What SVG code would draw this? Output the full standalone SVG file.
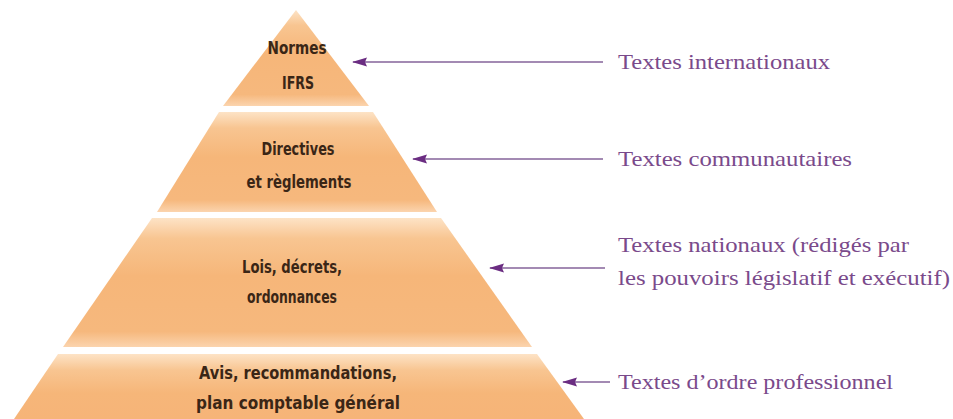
<svg xmlns="http://www.w3.org/2000/svg" width="953" height="419" viewBox="0 0 953 419">
  <style>
    .tier { stroke: none; }
    .lbl { font-family: "DejaVu Sans Condensed", "Liberation Sans Narrow", "Liberation Sans", sans-serif; font-size: 18px; fill: #3a2616; text-anchor: middle; font-weight: bold; }
    .src { font-family: "Liberation Serif", "Times New Roman", serif; font-size: 21px; fill: #7a4a8b; }
    .conn { stroke: #85639a; stroke-width: 1.6; fill: none; }
  </style>
  <defs>
    <linearGradient id="g" x1="0" y1="0" x2="0" y2="1">
      <stop offset="0" stop-color="#fde3c6"/>
      <stop offset="0.16" stop-color="#f8c591"/>
      <stop offset="0.45" stop-color="#f6b679"/>
      <stop offset="0.88" stop-color="#f6b87d"/>
      <stop offset="1" stop-color="#fbd4ae"/>
    </linearGradient>
    <linearGradient id="g4" x1="0" y1="0" x2="0" y2="1">
      <stop offset="0" stop-color="#fde3c6"/>
      <stop offset="0.25" stop-color="#f8c591"/>
      <stop offset="0.6" stop-color="#f6b679"/>
      <stop offset="1" stop-color="#f6b478"/>
    </linearGradient>
    <marker id="ah" markerWidth="15" markerHeight="10" refX="14" refY="5" orient="auto" markerUnits="userSpaceOnUse">
      <path d="M15,5 L0,0.5 L2,5 L0,9.5 Z" fill="#6b2d82"/>
    </marker>
  </defs>
  <rect width="953" height="419" fill="#ffffff"/>

  <g id="tier-ifrs">
    <polygon class="tier" fill="url(#g)" points="296,10 369,106 223,106"/>
    <text class="lbl" x="297" y="54" textLength="59" lengthAdjust="spacingAndGlyphs">Normes</text>
    <text class="lbl" x="298" y="89" textLength="32" lengthAdjust="spacingAndGlyphs">IFRS</text>
  </g>

  <g id="tier-directives">
    <polygon class="tier" fill="url(#g)" points="373,112 437,212 157,212 219,112"/>
    <text class="lbl" x="298" y="155" textLength="73" lengthAdjust="spacingAndGlyphs">Directives</text>
    <text class="lbl" x="299" y="188" textLength="105" lengthAdjust="spacingAndGlyphs">et règlements</text>
  </g>

  <g id="tier-lois">
    <polygon class="tier" fill="url(#g)" points="441,218 532,347 63,347 152,218"/>
    <text class="lbl" x="292" y="273" textLength="100" lengthAdjust="spacingAndGlyphs">Lois, décrets,</text>
    <text class="lbl" x="292" y="303" textLength="90" lengthAdjust="spacingAndGlyphs">ordonnances</text>
  </g>

  <g id="tier-avis">
    <polygon class="tier" fill="url(#g4)" points="537,354 584,419 14,419 58,354"/>
    <text class="lbl" x="298" y="379" textLength="198" lengthAdjust="spacingAndGlyphs">Avis, recommandations,</text>
    <text class="lbl" x="298" y="409" textLength="204" lengthAdjust="spacingAndGlyphs">plan comptable général</text>
  </g>

  <g id="connectors">
    <line class="conn" x1="603" y1="62" x2="353" y2="62" marker-end="url(#ah)"/>
    <line class="conn" x1="603" y1="159" x2="413" y2="159" marker-end="url(#ah)"/>
    <line class="conn" x1="605" y1="268" x2="490" y2="268" marker-end="url(#ah)"/>
    <line class="conn" x1="610" y1="382" x2="563" y2="382" marker-end="url(#ah)"/>
  </g>

  <g id="src-international">
    <text class="src" x="618" y="69" textLength="212" lengthAdjust="spacingAndGlyphs">Textes internationaux</text>
  </g>
  <g id="src-communautaire">
    <text class="src" x="618" y="166" textLength="234" lengthAdjust="spacingAndGlyphs">Textes communautaires</text>
  </g>
  <g id="src-national">
    <text class="src" x="618" y="252" textLength="291" lengthAdjust="spacingAndGlyphs">Textes nationaux (rédigés par</text>
    <text class="src" x="618" y="285" textLength="332" lengthAdjust="spacingAndGlyphs">les pouvoirs législatif et exécutif)</text>
  </g>
  <g id="src-professionnel">
    <text class="src" x="618" y="389" textLength="275" lengthAdjust="spacingAndGlyphs">Textes d’ordre professionnel</text>
  </g>
</svg>
